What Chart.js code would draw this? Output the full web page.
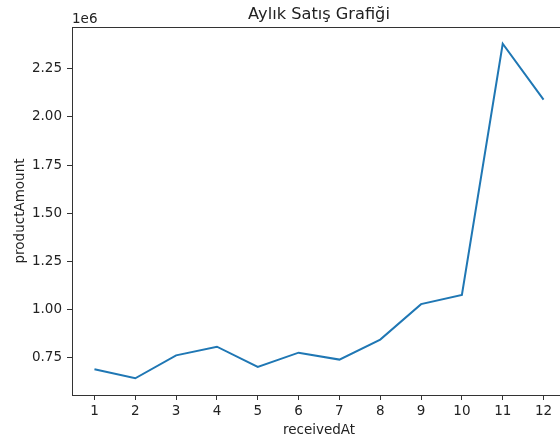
<!DOCTYPE html>
<html>
<head>
<meta charset="utf-8">
<script src="https://cdn.jsdelivr.net/npm/chart.js@4.4.1/dist/chart.umd.min.js"></script>
<style>
  html, body { margin: 0; padding: 0; overflow: hidden; background: #fff; }
  canvas { display: block; }
</style>
</head>
<body>
<canvas id="chart" width="566" height="441"></canvas>
<script>
// Monthly sales data
const months = [1, 2, 3, 4, 5, 6, 7, 8, 9, 10, 11, 12];
const productAmount = [690000, 643000, 762000, 807000, 702000, 776000, 740000, 844000, 1028000, 1076000, 2380000, 2090000];
const yTickValues = [750000, 1000000, 1250000, 1500000, 1750000, 2000000, 2250000];
const xTickValues = months;

const chartTitle = 'Aylık Satış Grafiği';
const xAxisLabel = 'receivedAt';
const yAxisLabel = 'productAmount';
const yOffsetText = '1e6';

const FONT = 'DejaVu Sans';
const TEXT = '#222';
const AXIS = '#333';

// 5% padding around the data range on both axes
function paddedRange(values) {
  const lo = Math.min(...values), hi = Math.max(...values);
  const pad = (hi - lo) * 0.05;
  return [lo - pad, hi + pad];
}
const [xMin, xMax] = paddedRange(months);
const [yMin, yMax] = paddedRange(productAmount);

// Title, exponent label and top frame line
const decorations = {
  id: 'decorations',
  afterDraw(chart) {
    const { ctx, chartArea: a } = chart;
    ctx.save();
    ctx.strokeStyle = AXIS;
    ctx.lineWidth = 1;
    ctx.beginPath();
    ctx.moveTo(a.left, a.top + 0.5);
    ctx.lineTo(a.right, a.top + 0.5);
    ctx.moveTo(a.right - 0.5, a.top);
    ctx.lineTo(a.right - 0.5, a.bottom);
    ctx.stroke();

    ctx.fillStyle = TEXT;
    ctx.textBaseline = 'alphabetic';
    ctx.font = '16.2px "' + FONT + '"';
    ctx.textAlign = 'center';
    ctx.fillText(chartTitle, (a.left + a.right) / 2, a.top - 8);

    ctx.font = '13.5px "' + FONT + '"';
    ctx.textAlign = 'left';
    ctx.fillText(yOffsetText, a.left, a.top - 4);
    ctx.restore();
  }
};

new Chart(document.getElementById('chart'), {
  type: 'line',
  data: {
    datasets: [{
      data: months.map((m, i) => ({ x: m, y: productAmount[i] })),
      borderColor: '#1f77b4',
      borderWidth: 2,
      pointRadius: 0,
      tension: 0,
      fill: false
    }]
  },
  options: {
    responsive: false,
    animation: false,
    devicePixelRatio: 1,
    layout: { padding: { top: 27, left: 0, right: 0, bottom: 0 } },
    plugins: { legend: { display: false }, tooltip: { enabled: false }, title: { display: false } },
    scales: {
      x: {
        type: 'linear',
        min: xMin,
        max: xMax,
        bounds: 'data',
        afterBuildTicks: s => { s.ticks = xTickValues.map(v => ({ value: v })); },
        afterFit: s => { s.height = 46; },
        border: { display: true, color: AXIS, width: 1 },
        grid: { display: true, drawOnChartArea: false, drawTicks: true, tickLength: 5, tickColor: AXIS, tickWidth: 1 },
        ticks: {
          padding: 3,
          color: TEXT,
          font: { family: FONT, size: 13.5 },
          maxRotation: 0,
          autoSkip: false,
          callback: v => String(v)
        },
        title: {
          display: true,
          text: xAxisLabel,
          color: TEXT,
          font: { family: FONT, size: 13.5 },
          padding: { top: 0, bottom: 2.4 }
        }
      },
      y: {
        type: 'linear',
        min: yMin,
        max: yMax,
        bounds: 'data',
        afterBuildTicks: s => { s.ticks = yTickValues.map(v => ({ value: v })); },
        afterFit: s => { s.width = 72; },
        border: { display: true, color: AXIS, width: 1 },
        grid: { display: true, drawOnChartArea: false, drawTicks: true, tickLength: 5, tickColor: AXIS, tickWidth: 1 },
        ticks: {
          padding: 5,
          color: TEXT,
          font: { family: FONT, size: 13.5 },
          autoSkip: false,
          callback: v => (v / 1e6).toFixed(2)
        },
        title: {
          display: true,
          text: yAxisLabel,
          color: TEXT,
          font: { family: FONT, size: 13.5 },
          padding: { top: 12, bottom: 0 }
        }
      }
    }
  },
  plugins: [decorations]
});
</script>
</body>
</html>
